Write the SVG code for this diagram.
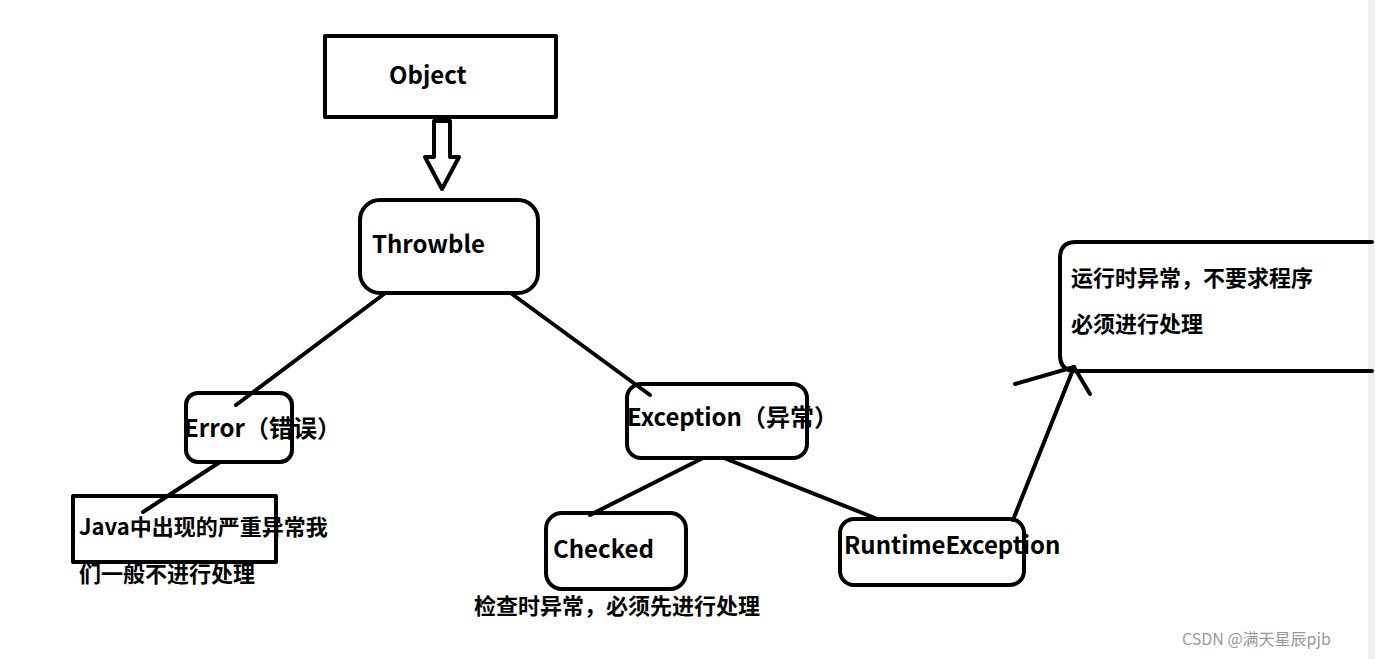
<svg xmlns="http://www.w3.org/2000/svg" width="1375" height="659" viewBox="0 0 1375 659">
<style>
.b{fill:none;stroke:#000;stroke-width:4;stroke-linejoin:round;stroke-linecap:round}
.t{font-family:"Microsoft YaHei","Noto Sans CJK SC",sans-serif;font-weight:bold;font-size:24px;fill:#000}
.c{font-family:"Noto Sans CJK SC",sans-serif;font-weight:bold;font-size:22px;fill:#000}
</style>
<rect width="1375" height="659" fill="#fff"/>
<rect x="1368" y="0" width="7" height="659" fill="#f0f0f0"/>
<g id="connectors" class="b">
<path d="M434 121 H450 V157 H459 L442 189 L425 157 H434 Z"/>
<line x1="384" y1="294" x2="236" y2="405"/>
<line x1="512" y1="294" x2="650" y2="395"/>
<line x1="220" y1="462" x2="143" y2="512"/>
<line x1="703" y1="458" x2="590" y2="515"/>
<line x1="724" y1="458" x2="875" y2="518"/>
<line x1="1013" y1="520" x2="1074" y2="367"/>
<line x1="1015" y1="384" x2="1074" y2="367"/>
<line x1="1074" y1="367" x2="1090" y2="394"/>
</g>
<g id="object"><rect class="b" x="325" y="36" width="231" height="81" stroke-linejoin="miter"/><text class="t" x="389" y="84">Object</text></g>
<g id="throwble"><rect class="b" x="360" y="200" width="178" height="93" rx="20"/><text class="t" x="372" y="253">Throwble</text></g>
<g id="error"><rect class="b" x="186" y="393" width="106" height="69" rx="12"/><text class="t" x="184" y="437">Error（错误）</text></g>
<g id="exception"><rect class="b" x="627" y="384" width="180" height="74" rx="14"/><text class="t" x="627" y="426">Exception（异常）</text></g>
<g id="java"><rect class="b" x="73" y="496" width="203" height="66" stroke-linejoin="miter"/><text class="c" x="79" y="535">Java中出现的严重异常我</text><text class="c" x="79" y="582">们一般不进行处理</text></g>
<g id="checked"><rect class="b" x="546" y="513" width="140" height="76" rx="16"/><text class="t" x="553" y="558">Checked</text><text class="c" x="474" y="614">检查时异常，必须先进行处理</text></g>
<g id="runtime"><rect class="b" x="840" y="519" width="184" height="66" rx="14"/><text class="t" x="844" y="554">RuntimeException</text></g>
<g id="note"><path class="b" d="M1372 242 H1076 Q1060 242 1060 258 V355 Q1060 371 1076 371 H1372"/><text class="c" x="1071" y="286">运行时异常，不要求程序</text><text class="c" x="1071" y="332">必须进行处理</text></g>
<text x="1182" y="645" font-family="Noto Sans CJK SC,sans-serif" font-size="16" fill="#999">CSDN @满天星辰pjb</text>
</svg>
